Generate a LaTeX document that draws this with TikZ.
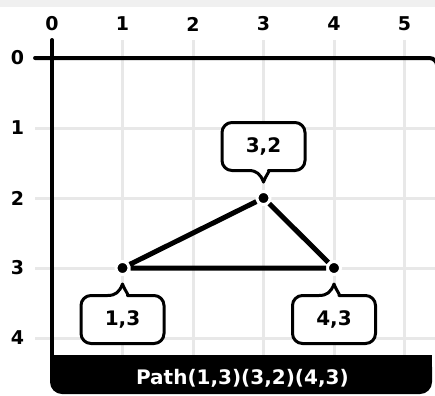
\documentclass[tikz,border=0pt]{standalone}
\usepackage{fontspec}
\setmainfont{DejaVu Sans}
\usepackage{tikz}
\usetikzlibrary{calc}

\begin{document}
\begin{tikzpicture}[x=70.5pt,y=-70pt,
  dot/.style={circle,fill=black,draw=white,line width=3pt,minimum size=13pt,inner sep=0pt},
  gridline/.style={line width=3pt,color=gray!18},
  axis/.style={line width=4pt,line cap=round},
  axlabel/.style={font=\bfseries\fontsize{19}{22}\selectfont},
  tagbox/.style={draw,fill=white,line width=3pt,line join=round},
  txt/.style={font=\bfseries\fontsize{20}{24}\selectfont}]

\useasboundingbox (-0.7376,-0.8286) rectangle (5.4326,4.8143);
\fill[gray!12] (-0.7376,-0.8286) rectangle (5.4326,-0.7286);

% grid
\foreach \x in {1,...,5}
  \draw[gridline] (\x,-0.257) -- (\x,4.3);
\foreach \y in {1,...,4}
  \draw[gridline] (-0.24,\y) -- (5.5,\y);

% axis labels
\foreach \x in {0,...,5}
  \node[axlabel] (top\x) at (\x,-0.486) {\x};
\foreach \y in {0,...,4}
  \node[axlabel] (side\y) at (-0.49,\y) {\y};

% frame
\draw[axis,rounded corners=8pt] (-0.24,0) -- (5.465,0) -- (5.465,4.3);
\draw[axis] (0,-0.257) -- (0,4.3);

% bar
\fill[rounded corners=12pt] (-0.028,4.243) rectangle (5.39,4.80);
\fill (-0.028,4.243) rectangle (5.39,4.5);
\node[txt,white] (caption) at (2.7,4.571) {Path(1,3)(3,2)(4,3)};

% callouts
\foreach \px/\py/\s in {3/2/1,1/3/-1,4/3/-1}{
  \begin{scope}[shift={(\px,\py)},yscale=\s]
    \draw[tagbox] (0pt,16pt) .. controls (-3pt,24pt) and (-7pt,27.5pt) .. (-15pt,27.5pt)
      [rounded corners=10pt] -- (-41.5pt,27.5pt) -- (-41.5pt,75.5pt) -- (41.5pt,75.5pt)
      -- (41.5pt,27.5pt) -- (15pt,27.5pt)
      [sharp corners] .. controls (7pt,27.5pt) and (3pt,24pt) .. (0pt,16pt) -- cycle;
  \end{scope}
  \node[txt] (tag\px\py) at ($(\px,\py)+(0pt,\s*51.5pt)$) {\px,\py};
}

% points
\node[dot] (p13) at (1,3) {};
\node[dot] (p32) at (3,2) {};
\node[dot] (p43) at (4,3) {};
\draw[line width=5pt] (p13) -- (p32) -- (p43) -- (p13);

\end{tikzpicture}
\end{document}
